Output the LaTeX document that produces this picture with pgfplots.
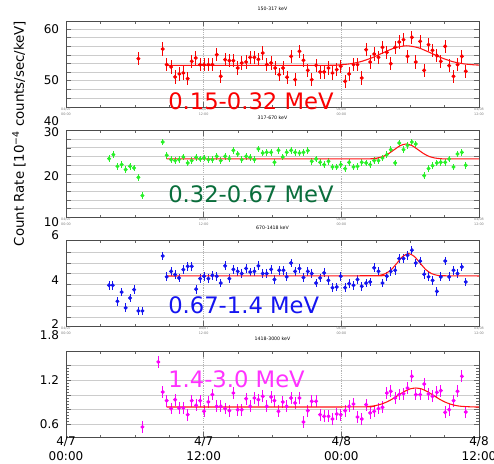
\documentclass[border=0pt]{standalone}
\usepackage{pgfplots}
\pgfplotsset{compat=1.18}
\usepackage{fontspec}
\setmainfont{DejaVu Sans}

\definecolor{fitred}{RGB}{255,20,20}
\definecolor{ptred}{RGB}{250,0,0}
\definecolor{ptgreen}{RGB}{40,240,40}
\definecolor{labgreen}{RGB}{10,110,60}
\definecolor{ptblue}{RGB}{20,20,240}
\definecolor{ptmag}{RGB}{250,0,250}
\definecolor{labmag}{RGB}{255,50,255}

\pgfplotsset{
  panel/.style={
    scale only axis, width=309.75pt, anchor=north west,
    xmin=0, xmax=36,
    xtick={0,12,24,36}, minor x tick num=3,
    xmajorgrids, major x grid style={gray!60, densely dotted, line width=0.4pt},
    ymajorgrids, major y grid style={gray!40, line width=0.4pt},
    yticklabels={}, minor y tick num=4,
    major tick length=4pt, minor tick length=2pt,
    tick style={black!60, line width=0.3pt},
    axis line style={black!70, line width=0.4pt},
    extra y tick style={grid=none, major tick length=0pt},
    yticklabel style={font=\fontsize{9}{10}\selectfont, inner sep=0pt, xshift=-5pt},
    xticklabels={04/07\\00:00,04/07\\12:00,04/08\\00:00,04/08\\12:00},
    xticklabel style={font=\fontsize{2.5}{3.6}\selectfont, align=center, text=gray, inner sep=0.5pt},
    title style={font=\fontsize{3.5}{4}\selectfont, yshift=-1.5pt},
  },
  pts/.style={only marks, mark=*, mark size=1.3pt, color=#1,
    error bars/y dir=both, error bars/x dir=both, error bars/x fixed=0.12,
    error bars/error mark=none, error bars/error bar style={line width=0.7pt}},
  fit/.style={fitred, line width=0.8pt, smooth, tension=0.4},
}

\begin{document}
\begin{tikzpicture}
\useasboundingbox (0,0) rectangle (370.5pt,-348pt);

% 150-317 keV
\begin{axis}[panel, at={(49.5pt,-15.75pt)}, height=64.7pt,
    ymin=44.84, ymax=61.55,
    ytick={46.6667,48.3333,50,51.6667,53.3333,55,56.6667,58.3333,60},
    extra y ticks={50,60}, extra y tick labels={50,60},
    title={150-317 keV}]
\addplot[pts=ptred, error bars/y fixed=1.3] table {
6.31 54.26
8.43 56.13
8.78 53.10
9.16 52.65
9.51 50.71
9.88 51.29
10.23 51.48
10.61 50.39
10.96 53.74
11.31 54.39
11.69 53.10
12.03 53.10
12.41 53.10
12.76 53.10
13.14 55.03
13.49 50.84
13.87 54.06
14.24 53.87
14.59 53.87
14.97 52.45
15.32 53.42
15.70 53.61
16.05 54.52
16.42 54.52
16.77 54.13
17.15 55.35
17.50 53.10
17.88 53.42
18.23 52.45
18.58 51.16
18.92 52.45
19.27 50.65
19.62 54.71
19.97 50.19
20.35 55.68
20.70 53.94
21.08 52.00
21.42 50.19
21.80 52.97
22.15 51.68
22.50 51.68
22.88 52.45
23.23 51.48
23.60 52.13
23.95 52.77
24.33 49.87
24.68 51.29
25.06 53.10
25.41 53.10
25.78 50.52
26.16 56.00
26.51 53.61
26.86 55.16
27.24 54.52
27.59 56.45
27.97 55.48
28.31 53.29
28.69 56.45
29.04 57.48
29.42 57.94
29.77 54.71
30.15 58.39
30.49 53.61
30.87 57.61
31.22 52.00
31.60 56.97
31.95 55.87
32.33 54.84
32.67 53.74
33.05 56.65
33.40 52.90
33.78 50.84
34.13 53.10
34.51 54.71
34.85 51.81
};
\addplot[fit] table {
8.78 52.95
22.7 52.97
23.7 53.04
24.7 53.24
25.7 53.68
26.7 54.45
27.7 55.46
28.7 56.38
29.7 56.75
30.7 56.38
31.7 55.46
32.7 54.45
33.7 53.68
34.7 53.24
35.7 53.04
36 53.02
};
\end{axis}

% 317-670 keV
\begin{axis}[panel, at={(49.5pt,-98.0pt)}, height=64.95pt,
    ymin=10.96, ymax=30.22,
    ytick={12.89,14.82,16.76,18.69,20.63,22.56,24.5,26.43,28.37},
    extra y ticks={20,30}, extra y tick labels={20,30},
    title={317-670 keV}]
\addplot[pts=ptgreen, error bars/y fixed=0.75] table {
3.75 24.00
4.13 24.89
4.48 22.30
4.85 22.67
5.20 21.56
5.58 22.30
5.93 21.93
6.31 19.85
6.66 15.78
8.43 27.70
8.78 24.74
9.16 23.78
9.51 23.56
9.85 23.78
10.23 24.37
10.61 23.04
10.96 23.56
11.34 24.30
11.69 23.93
12.03 24.15
12.41 23.78
12.76 23.78
13.14 24.52
13.49 23.56
13.87 24.52
14.24 24.00
14.59 25.85
14.97 25.04
15.32 23.78
15.70 24.52
16.05 24.30
16.42 23.78
16.77 26.15
17.15 25.26
17.50 25.41
17.88 25.41
18.17 23.19
18.52 25.85
18.90 24.37
19.24 25.41
19.62 25.85
19.97 25.41
20.35 25.26
20.70 25.41
21.08 25.78
21.42 23.41
21.80 23.93
22.15 23.19
22.50 22.67
22.88 23.41
23.23 22.15
23.60 22.15
23.95 22.67
24.33 21.78
24.68 23.19
25.06 22.15
25.41 22.30
25.78 23.19
26.16 23.04
26.51 22.67
26.86 23.56
27.24 23.56
27.59 24.15
27.97 24.89
28.31 26.00
28.69 23.04
29.04 27.48
29.42 26.00
29.77 26.96
30.15 27.70
30.49 27.26
31.22 20.22
31.60 21.78
31.95 22.44
32.33 23.04
32.67 23.19
33.05 23.19
33.40 23.93
33.78 22.15
34.13 25.04
34.51 25.41
34.85 22.52
};
\addplot[fit] table {
8.78 23.93
26.15 23.94
26.65 23.99
27.15 24.14
27.65 24.49
28.15 25.16
28.65 26.06
29.15 26.91
29.65 27.26
30.15 26.91
30.65 26.06
31.15 25.16
31.65 24.49
32.15 24.14
32.65 23.99
33.15 23.94
36 23.93
};
\end{axis}

% 670-1418 keV
\begin{axis}[panel, at={(49.5pt,-180.2pt)}, height=64.5pt,
    ymin=1.894, ymax=5.803,
    ytick={2.32,2.81,3.30,3.80,4.29,4.78,5.27},
    extra y ticks={2,4}, extra y tick labels={2,4},
    title={670-1418 keV}]
\addplot[pts=ptblue, error bars/y fixed=0.2] table {
3.75 3.76
4.07 3.76
4.48 3.03
4.85 3.45
5.20 2.73
5.58 3.18
5.93 3.56
6.31 2.59
6.66 2.59
8.43 5.09
8.78 4.14
9.16 4.39
9.51 4.24
9.85 4.09
10.23 4.47
10.61 4.62
10.96 4.62
11.34 3.58
11.69 4.06
12.03 4.17
12.41 4.06
12.76 4.21
13.14 4.17
13.49 3.86
13.87 4.64
14.24 4.06
14.59 4.48
14.97 4.39
15.32 4.29
15.70 4.52
16.05 4.36
16.42 4.39
16.77 4.64
17.15 4.29
17.50 4.29
17.88 4.48
18.17 4.02
18.58 4.44
18.95 4.44
19.24 4.14
19.62 4.77
19.97 4.39
20.35 4.52
20.70 4.11
21.08 4.39
21.42 4.29
21.80 3.86
22.15 4.09
22.50 4.32
22.88 3.98
23.23 3.64
23.60 3.68
23.95 4.17
24.33 3.65
24.68 3.83
25.06 3.76
25.41 4.02
25.78 3.71
26.16 3.86
26.51 3.91
26.86 4.55
27.24 4.39
27.59 3.86
27.97 4.17
28.31 4.39
28.69 4.44
29.04 4.97
29.42 4.97
29.77 5.12
30.15 5.35
30.49 4.77
30.87 4.86
31.22 4.26
31.60 4.14
31.95 3.98
32.33 3.48
32.67 4.14
33.05 4.86
33.40 4.14
33.78 4.44
34.13 4.29
34.51 4.59
34.85 3.91
};
\addplot[fit] table {
8.78 4.18
26.86 4.19
27.36 4.21
27.86 4.29
28.36 4.47
28.86 4.77
29.36 5.07
29.86 5.20
30.36 5.07
30.86 4.77
31.36 4.47
31.86 4.29
32.36 4.21
32.86 4.19
36 4.18
};
\end{axis}

% 1418-3000 keV
\begin{axis}[panel, at={(49.5pt,-263.5pt)}, height=64.5pt,
    ymin=0.4227, ymax=1.595,
    ytick={0.6,0.8,1.0,1.2,1.4},
    extra y ticks={0.6,1.2}, extra y tick labels={0.6,1.2},
    xticklabels={4/7\\00:00,4/7\\12:00,4/8\\00:00,4/8\\12:00},
    xticklabel style={font=\fontsize{9}{11.3}\selectfont, text=black, inner sep=0pt, yshift=0.8pt},
    title={1418-3000 keV}]
\addplot[pts=ptmag, error bars/y fixed=0.08] table {
6.66 0.564
8.05 1.45
8.43 1.041
8.78 0.923
9.16 0.814
9.51 0.936
9.85 0.823
10.23 0.823
10.61 0.732
10.96 0.923
11.34 0.859
11.69 0.923
12.03 0.777
12.41 0.905
12.76 1.005
13.14 0.845
13.49 0.845
13.87 0.814
14.24 0.786
14.59 1.027
14.97 0.800
15.32 0.800
15.70 0.950
16.05 0.845
16.42 0.959
16.77 0.936
17.15 0.982
17.50 0.845
17.88 0.973
18.17 0.923
18.52 0.777
18.90 0.905
19.24 0.845
19.62 0.959
19.97 0.891
20.35 0.959
20.70 0.632
21.08 0.786
21.42 0.914
21.80 0.914
22.15 0.732
22.50 0.709
22.88 0.709
23.23 0.673
23.60 0.741
23.95 0.732
24.33 0.786
24.68 0.845
25.06 0.877
25.41 0.700
25.78 0.673
26.16 0.868
26.51 0.755
26.86 0.777
27.24 0.814
27.59 0.832
27.97 1.027
28.31 1.050
28.69 0.959
29.04 1.005
29.42 1.018
29.77 1.095
30.15 1.255
30.49 1.005
30.87 1.005
31.22 1.150
31.60 1.014
31.95 0.982
32.33 1.036
32.67 1.059
33.05 0.764
33.40 0.800
33.78 0.923
34.13 1.050
34.51 1.255
34.85 0.768
};
\addplot[fit] table {
8.78 0.836
25.49 0.837
26.49 0.845
26.99 0.856
27.49 0.876
27.99 0.907
28.49 0.949
28.99 0.999
29.49 1.047
29.99 1.083
30.49 1.095
30.99 1.083
31.49 1.047
31.99 0.999
32.49 0.949
32.99 0.907
33.49 0.876
33.99 0.856
34.49 0.845
35.49 0.837
36 0.836
};
\end{axis}

% stray overlay tick labels
\begin{scope}[every node/.style={anchor=east, inner sep=0pt, font=\fontsize{9}{10}\selectfont}]
\node at (44.5pt,-90.75pt) {40};
\node at (44.5pt,-166.3pt) {10};
\node at (44.5pt,-176.25pt) {6};
\node at (44.5pt,-251.25pt) {1.8};
\end{scope}

% energy band labels
\begin{scope}[every node/.style={anchor=west, inner sep=0pt, font=\fontsize{17}{20}\selectfont}]
\node[text=ptred] at (126pt,-75.75pt) {0.15-0.32 MeV};
\node[text=labgreen] at (126pt,-145.5pt) {0.32-0.67 MeV};
\node[text=ptblue] at (126pt,-228.75pt) {0.67-1.4 MeV};
\node[text=labmag] at (126pt,-284.25pt) {1.4-3.0 MeV};
\end{scope}

\node[rotate=90, font=\fontsize{10}{12}\selectfont] at (14.25pt,-100.1pt)
  {Count Rate [10\textsuperscript{−4} counts/sec/keV]};
\end{tikzpicture}
\end{document}
